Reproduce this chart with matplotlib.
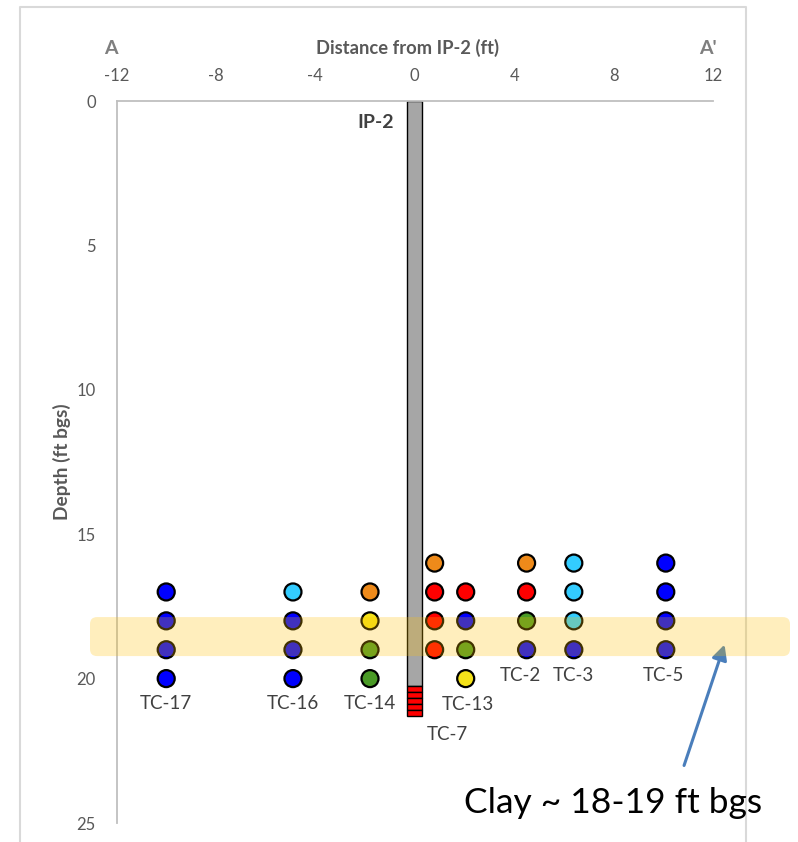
import matplotlib
matplotlib.use("Agg")
import matplotlib.pyplot as plt
from matplotlib.patches import FancyBboxPatch
from matplotlib.lines import Line2D
from matplotlib.transforms import IdentityTransform

plt.rcParams["font.family"] = ["Lato", "DejaVu Sans"]
plt.rcParams["axes.unicode_minus"] = False

# Soil-gas / groundwater sample locations along section A-A'
wells = ["TC-17", "TC-16", "TC-14", "TC-7", "TC-13", "TC-2", "TC-3", "TC-5"]
well_x = [-10.0, -4.9, -1.8, 0.8, 2.05, 4.5, 6.4, 10.1]   # distance from IP-2 (ft)
well_depths = [
    [17, 18, 19, 20],
    [17, 18, 19, 20],
    [17, 18, 19, 20],
    [16, 17, 18, 19],
    [17, 18, 19, 20],
    [16, 17, 18, 19],
    [16, 17, 18, 19],
    [16, 17, 18, 19],
]
well_classes = [
    ["blue", "blue", "blue", "blue"],
    ["cyan", "blue", "blue", "blue"],
    ["orange", "yellow", "green", "green"],
    ["orange", "red", "red", "red"],
    ["red", "blue", "green", "yellow"],
    ["orange", "red", "green", "blue"],
    ["cyan", "cyan", "cyan", "blue"],
    ["blue", "blue", "blue", "blue"],
]
class_colors = {
    "blue": "#0000FF",
    "cyan": "#33CCFF",
    "orange": "#EE8A1A",
    "red": "#FF0000",
    "yellow": "#F5E31A",
    "green": "#4A9A26",
}

# Injection point IP-2: blank casing and screened interval (ft bgs)
ip_casing_bottom = 20.25
ip_screen_bottom = 21.3
clay_top, clay_bottom = 17.87, 19.22

x_ticks = [-12, -8, -4, 0, 4, 8, 12]
y_ticks = [0, 5, 10, 15, 20, 25]

W, H = 798, 842
fig = plt.figure(figsize=(W / 100, H / 100), dpi=100)
ax = fig.add_axes([116.5 / W, (H - 823) / H, (713 - 116.5) / W, (823 - 101) / H])

ax.set_xlim(-12, 12)
ax.set_ylim(25, 0)
ax.xaxis.tick_top()
ax.set_xticks(x_ticks)
ax.set_yticks(y_ticks)
ax.tick_params(axis="x", length=0, pad=12, labelsize=12, labelcolor="#595959")
ax.tick_params(axis="y", length=0, pad=15, labelsize=12, labelcolor="#595959")
for side in ("right", "bottom"):
    ax.spines[side].set_visible(False)
for side in ("top", "left"):
    ax.spines[side].set_color("#BFBFBF")
    ax.spines[side].set_linewidth(1.3)

# IP-2 casing and screen
bar_w = 0.59
ax.bar(0, ip_casing_bottom, bottom=0, width=bar_w, color="#A6A6A6",
       edgecolor="black", linewidth=1, zorder=2)
n_seg = 5
seg = (ip_screen_bottom - ip_casing_bottom) / n_seg
ax.bar([0] * n_seg, [seg] * n_seg,
       bottom=[ip_casing_bottom + i * seg for i in range(n_seg)],
       width=bar_w, color="#FF0000", edgecolor="black", linewidth=1, zorder=2)
ax.text(-0.85, 0.75, "IP-2", ha="right", va="center", fontsize=14,
        fontweight="bold", color="#404040")

# Sample points
for x, depths, classes in zip(well_x, well_depths, well_classes):
    ax.scatter([x] * len(depths), depths, s=150,
               c=[class_colors[c] for c in classes],
               edgecolors="black", linewidths=1.6, zorder=3, clip_on=False)

# Well labels
label_pos = {
    "TC-17": (-10.0, 20.85), "TC-16": (-4.9, 20.85), "TC-14": (-1.8, 20.85),
    "TC-7": (1.3, 21.95), "TC-13": (2.15, 20.9), "TC-2": (4.25, 19.88),
    "TC-3": (6.4, 19.88), "TC-5": (10.0, 19.88),
}
for name in wells:
    lx, ly = label_pos[name]
    ax.text(lx, ly, name, ha="center", va="center", fontsize=13.5,
            color="#404040")

# Axis titles and section ends
fig.text(407 / W, 1 - 48 / H, "Distance from IP-2 (ft)", ha="center",
         va="center", fontsize=13.2, fontweight="bold", color="#595959")
fig.text(111 / W, 1 - 48 / H, "A", ha="center", va="center", fontsize=14,
         fontweight="bold", color="#7F7F7F")
fig.text(708 / W, 1 - 48 / H, "A'", ha="center", va="center", fontsize=14,
         fontweight="bold", color="#7F7F7F")
fig.text(62 / W, 1 - 462 / H, "Depth (ft bgs)", ha="center", va="center",
         rotation=90, fontsize=13.8, fontweight="bold", color="#595959")

# Chart frame
frame_kw = dict(color="#D9D9D9", linewidth=1.5, transform=fig.transFigure)
fig.add_artist(Line2D([20 / W, 20 / W, 746 / W, 746 / W],
                      [0, 1 - 7 / H, 1 - 7 / H, 0], **frame_kw))

# Clay layer highlight
y_top = ax.transData.transform((0, clay_top))[1]
y_bot = ax.transData.transform((0, clay_bottom))[1]
band = FancyBboxPatch((90, y_bot), 700, y_top - y_bot,
                      boxstyle="round,pad=0,rounding_size=7",
                      transform=IdentityTransform(), facecolor="#FFC000",
                      edgecolor="none", alpha=0.26, zorder=5)
fig.add_artist(band)

# Callout
ax.annotate("", xy=(12.5, 18.73), xytext=(10.8, 23.1),
            arrowprops=dict(arrowstyle="-|>,head_length=0.9,head_width=0.45",
                            color="#4A7EBB", linewidth=2.2),
            annotation_clip=False, zorder=6)
fig.text(613 / W, 1 - 803 / H, "Clay ~ 18-19 ft bgs", ha="center",
         va="center", fontsize=25.5, color="black")

fig.savefig("out.png", dpi=100)
